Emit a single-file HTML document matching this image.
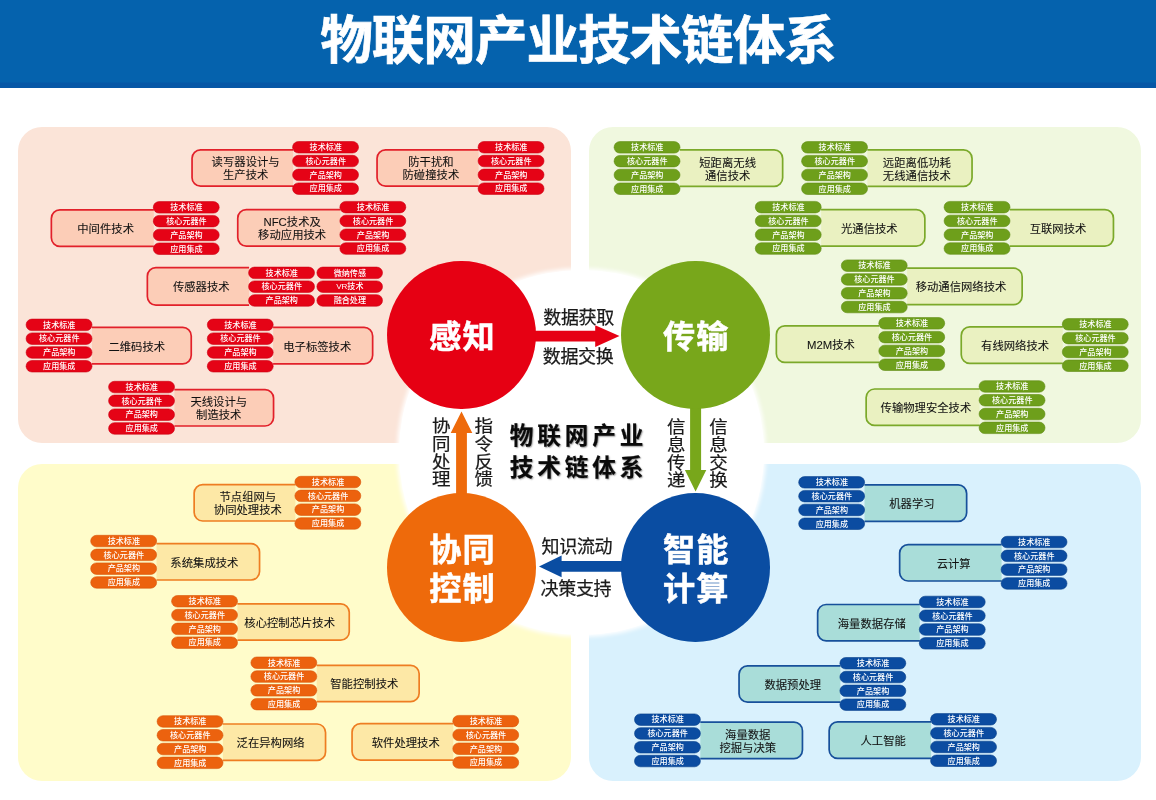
<!DOCTYPE html>
<html lang="zh-CN">
<head>
<meta charset="utf-8">
<title>物联网产业技术链体系</title>
<style>
html,body{margin:0;padding:0;background:#fff;}
body{width:1156px;height:800px;overflow:hidden;position:relative;font-family:"Liberation Sans","Noto Sans CJK SC",sans-serif;color:#111;}
#stage{-webkit-font-smoothing:antialiased;will-change:transform;position:absolute;left:0;top:0;width:1156px;height:800px;overflow:hidden;background:#fff;}
#hdr{position:absolute;left:0;top:0;width:1156px;height:87.5px;background:linear-gradient(#0562ad 0,#0562ad 81.5px,#0757a6 83.5px,#0757a6 100%);}
#hdr h1{position:absolute;left:0;top:0;width:1156px;margin:0;text-align:center;color:#fff;font-weight:700;font-size:52.6px;line-height:82px;height:87px;letter-spacing:-1.05px;white-space:nowrap;-webkit-text-stroke:.7px #fff;}
.pan{position:absolute;border-radius:24px;}
#pTL{left:18px;top:126.5px;width:553px;height:316.5px;background:#fbe4d8;}
#pTR{left:588.5px;top:126.5px;width:552.5px;height:316.5px;background:#f0f8df;}
#pBL{left:18px;top:464px;width:553px;height:316.5px;background:#fffcca;}
#pBR{left:588.5px;top:464px;width:552.5px;height:316.5px;background:#d9f1fd;}
#wc{position:absolute;left:398.5px;top:269.5px;width:365px;height:365px;border-radius:50%;background:#fff;box-shadow:0 0 4px 2px #fff;}
.cir{position:absolute;width:148.6px;height:148.6px;border-radius:50%;color:#fff;font-weight:700;font-size:32.2px;text-align:center;display:flex;align-items:center;justify-content:center;line-height:38.7px;letter-spacing:1.1px;padding:5px 0 0 1.6px;box-sizing:border-box;-webkit-text-stroke:.5px #fff;}
#c1{left:387.4px;top:260.5px;background:#e60013;}
#c2{left:621.2px;top:260.5px;background:#78a71b;}
#c3{left:387.4px;top:493.3px;background:#ee6a0b;}
#c4{left:621.2px;top:493.3px;background:#0a4da2;}
.al{position:absolute;-webkit-text-stroke:.25px #1a1a1a;font-size:18px;line-height:20px;height:20px;white-space:nowrap;color:#1a1a1a;letter-spacing:-.35px;}
.vl{position:absolute;-webkit-text-stroke:.25px #1a1a1a;font-size:18.5px;line-height:19.25px;width:20px;text-align:center;color:#1a1a1a;transform:scaleY(.9);transform-origin:50% 0;}
#ct{position:absolute;left:508.6px;top:419.6px;width:140px;text-align:center;font-weight:700;font-size:23.6px;line-height:32.7px;letter-spacing:3.9px;color:#0a0a0a;white-space:nowrap;text-shadow:1px 1px 1.5px rgba(0,0,0,.4);-webkit-text-stroke:.2px #0a0a0a;}
svg#arr{position:absolute;left:0;top:0;}
svg#itm{position:absolute;left:0;top:0;}
.bxs path{stroke-width:1.7;}
.xr{fill:#fccdb7;stroke:#e2202a;}
.xg{fill:#eaf1c1;stroke:#7ba92a;}
.xo{fill:#fde8a6;stroke:#ee7d22;}
.xb{fill:#a9ddd9;stroke:#17509b;}
.pr{fill:#e50316;stroke:#cb0012;stroke-width:.6;}
.pg{fill:#6e9f1b;stroke:#5f8c14;stroke-width:.6;}
.po{fill:#ec620e;stroke:#d6560a;stroke-width:.6;}
.pb{fill:#0b4ca1;stroke:#083f8a;stroke-width:.6;}
.btx text{font-family:"Liberation Sans","Noto Sans CJK SC",sans-serif;font-size:11.35px;fill:#111;stroke:#111;stroke-width:.08px;text-anchor:middle;dominant-baseline:central;}
.ptx text{font-family:"Liberation Sans","Noto Sans CJK SC",sans-serif;font-size:8.1px;font-weight:500;fill:#fff;text-anchor:middle;dominant-baseline:central;}
</style>
</head>
<body>
<div id="stage">
<div id="hdr"><h1>物联网产业技术链体系</h1></div>
<div class="pan" id="pTL"></div>
<div class="pan" id="pTR"></div>
<div class="pan" id="pBL"></div>
<div class="pan" id="pBR"></div>
<div id="wc"></div>
<svg id="arr" width="1156" height="800" viewBox="0 0 1156 800">
<polygon fill="#e60013" points="530,330.7 595.2,330.7 595.2,325.2 619.5,336.1 595.2,347 595.2,341.5 530,341.5"/>
<polygon fill="#78a71b" points="690.1,404 701.1,404 701.1,470.1 706.3,470.1 695.6,491.6 684.9,470.1 690.1,470.1"/>
<polygon fill="#0a4da2" points="628,561 561.6,561 561.6,555.5 539,566.4 561.6,577.3 561.6,571.8 628,571.8"/>
<polygon fill="#ee6a0b" points="456.1,500 456.1,433 450.7,433 461.5,411.4 472.3,433 466.9,433 466.9,500"/>
</svg>
<div class="cir" id="c1">感知</div>
<div class="cir" id="c2">传输</div>
<div class="cir" id="c3">协同<br>控制</div>
<div class="cir" id="c4">智能<br>计算</div>
<div class="al" style="left:543.3px;top:307.5px">数据获取</div>
<div class="al" style="left:542.8px;top:347.2px">数据交换</div>
<div class="al" style="left:541.6px;top:536.6px">知识流动</div>
<div class="al" style="left:540.6px;top:579.1px">决策支持</div>
<div class="vl" style="left:431.25px;top:418.4px">协<br>同<br>处<br>理</div>
<div class="vl" style="left:473.8px;top:418.4px">指<br>令<br>反<br>馈</div>
<div class="vl" style="left:666.3px;top:418.6px">信<br>息<br>传<br>递</div>
<div class="vl" style="left:708.4px;top:418.6px">信<br>息<br>交<br>换</div>
<div id="ct">物联网产业<br>技术链体系</div>
<svg id="itm" width="1156" height="800" viewBox="0 0 1156 800">
<g class="bxs"><path class="xr" d="M293.1,149.8 L200.55,149.8 A8.5,8.5 0 0 0 192.05,158.3 L192.05,177.7 A8.5,8.5 0 0 0 200.55,186.2 L293.1,186.2"/>
<path class="xr" d="M478.6,149.8 L385.55,149.8 A8.5,8.5 0 0 0 377.05,158.3 L377.05,177.7 A8.5,8.5 0 0 0 385.55,186.2 L478.6,186.2"/>
<path class="xr" d="M153.8,209.9 L59.85,209.9 A8.5,8.5 0 0 0 51.35,218.4 L51.35,237.8 A8.5,8.5 0 0 0 59.85,246.3 L153.8,246.3"/>
<path class="xr" d="M340.4,209.7 L246.25,209.7 A8.5,8.5 0 0 0 237.75,218.2 L237.75,237.6 A8.5,8.5 0 0 0 246.25,246.1 L340.4,246.1"/>
<path class="xr" d="M91.9,327.4 L182.75,327.4 A8.5,8.5 0 0 1 191.25,335.9 L191.25,355.3 A8.5,8.5 0 0 1 182.75,363.8 L91.9,363.8"/>
<path class="xr" d="M273.1,327.4 L364.15,327.4 A8.5,8.5 0 0 1 372.65,335.9 L372.65,355.3 A8.5,8.5 0 0 1 364.15,363.8 L273.1,363.8"/>
<path class="xr" d="M174.4,389.6 L265.05,389.6 A8.5,8.5 0 0 1 273.55,398.1 L273.55,417.5 A8.5,8.5 0 0 1 265.05,426 L174.4,426"/>
<path class="xg" d="M679.9,149.9 L774.15,149.9 A8.5,8.5 0 0 1 782.65,158.4 L782.65,177.8 A8.5,8.5 0 0 1 774.15,186.3 L679.9,186.3"/>
<path class="xg" d="M867.4,149.9 L963.55,149.9 A8.5,8.5 0 0 1 972.05,158.4 L972.05,177.8 A8.5,8.5 0 0 1 963.55,186.3 L867.4,186.3"/>
<path class="xg" d="M821.1,209.7 L916.35,209.7 A8.5,8.5 0 0 1 924.85,218.2 L924.85,237.6 A8.5,8.5 0 0 1 916.35,246.1 L821.1,246.1"/>
<path class="xg" d="M1009.9,209.7 L1104.95,209.7 A8.5,8.5 0 0 1 1113.45,218.2 L1113.45,237.6 A8.5,8.5 0 0 1 1104.95,246.1 L1009.9,246.1"/>
<path class="xg" d="M907.1,268.2 L1013.65,268.2 A8.5,8.5 0 0 1 1022.15,276.7 L1022.15,296.1 A8.5,8.5 0 0 1 1013.65,304.6 L907.1,304.6"/>
<path class="xg" d="M879.3,325.9 L784.85,325.9 A8.5,8.5 0 0 0 776.35,334.4 L776.35,353.8 A8.5,8.5 0 0 0 784.85,362.3 L879.3,362.3"/>
<path class="xg" d="M1062.8,326.9 L969.75,326.9 A8.5,8.5 0 0 0 961.25,335.4 L961.25,354.8 A8.5,8.5 0 0 0 969.75,363.3 L1062.8,363.3"/>
<path class="xg" d="M979.6,389 L874.65,389 A8.5,8.5 0 0 0 866.15,397.5 L866.15,416.9 A8.5,8.5 0 0 0 874.65,425.4 L979.6,425.4"/>
<path class="xb" d="M864.5,484.9 L958.15,484.9 A8.5,8.5 0 0 1 966.65,493.4 L966.65,512.8 A8.5,8.5 0 0 1 958.15,521.3 L864.5,521.3"/>
<path class="xb" d="M1001.6,544.6 L908.15,544.6 A8.5,8.5 0 0 0 899.65,553.1 L899.65,572.5 A8.5,8.5 0 0 0 908.15,581 L1001.6,581"/>
<path class="xb" d="M919.8,604.5 L826.15,604.5 A8.5,8.5 0 0 0 817.65,613 L817.65,632.4 A8.5,8.5 0 0 0 826.15,640.9 L919.8,640.9"/>
<path class="xb" d="M840.4,665.8 L747.55,665.8 A8.5,8.5 0 0 0 739.05,674.3 L739.05,693.7 A8.5,8.5 0 0 0 747.55,702.2 L840.4,702.2"/>
<path class="xb" d="M700.3,722.2 L793.95,722.2 A8.5,8.5 0 0 1 802.45,730.7 L802.45,750.1 A8.5,8.5 0 0 1 793.95,758.6 L700.3,758.6"/>
<path class="xb" d="M931.1,721.9 L837.65,721.9 A8.5,8.5 0 0 0 829.15,730.4 L829.15,749.8 A8.5,8.5 0 0 0 837.65,758.3 L931.1,758.3"/>
<path class="xo" d="M295.4,484.6 L202.65,484.6 A8.5,8.5 0 0 0 194.15,493.1 L194.15,512.5 A8.5,8.5 0 0 0 202.65,521 L295.4,521"/>
<path class="xo" d="M156.5,543.6 L251.05,543.6 A8.5,8.5 0 0 1 259.55,552.1 L259.55,571.5 A8.5,8.5 0 0 1 251.05,580 L156.5,580"/>
<path class="xo" d="M237.4,603.8 L340.75,603.8 A8.5,8.5 0 0 1 349.25,612.3 L349.25,631.7 A8.5,8.5 0 0 1 340.75,640.2 L237.4,640.2"/>
<path class="xo" d="M316.7,665.3 L410.65,665.3 A8.5,8.5 0 0 1 419.15,673.8 L419.15,693.2 A8.5,8.5 0 0 1 410.65,701.7 L316.7,701.7"/>
<path class="xo" d="M222.9,724 L317.05,724 A8.5,8.5 0 0 1 325.55,732.5 L325.55,751.9 A8.5,8.5 0 0 1 317.05,760.4 L222.9,760.4"/>
<path class="xo" d="M453.3,723.7 L360.55,723.7 A8.5,8.5 0 0 0 352.05,732.2 L352.05,751.6 A8.5,8.5 0 0 0 360.55,760.1 L453.3,760.1"/>
<path class="xr" d="M249.1,267.7 L155.85,267.7 A8.5,8.5 0 0 0 147.35,276.2 L147.35,296.6 A8.5,8.5 0 0 0 155.85,305.1 L249.1,305.1"/></g>
<g class="pls"><rect class="pr" x="292.6" y="141.5" width="65.9" height="11.5" rx="5.8" ry="5.8"/>
<rect class="pr" x="292.6" y="155.3" width="65.9" height="11.5" rx="5.8" ry="5.8"/>
<rect class="pr" x="292.6" y="169.1" width="65.9" height="11.5" rx="5.8" ry="5.8"/>
<rect class="pr" x="292.6" y="182.9" width="65.9" height="11.5" rx="5.8" ry="5.8"/>
<rect class="pr" x="478.1" y="141.5" width="65.9" height="11.5" rx="5.8" ry="5.8"/>
<rect class="pr" x="478.1" y="155.3" width="65.9" height="11.5" rx="5.8" ry="5.8"/>
<rect class="pr" x="478.1" y="169.1" width="65.9" height="11.5" rx="5.8" ry="5.8"/>
<rect class="pr" x="478.1" y="182.9" width="65.9" height="11.5" rx="5.8" ry="5.8"/>
<rect class="pr" x="153.3" y="201.6" width="65.9" height="11.5" rx="5.8" ry="5.8"/>
<rect class="pr" x="153.3" y="215.4" width="65.9" height="11.5" rx="5.8" ry="5.8"/>
<rect class="pr" x="153.3" y="229.2" width="65.9" height="11.5" rx="5.8" ry="5.8"/>
<rect class="pr" x="153.3" y="243" width="65.9" height="11.5" rx="5.8" ry="5.8"/>
<rect class="pr" x="339.9" y="201.4" width="65.9" height="11.5" rx="5.8" ry="5.8"/>
<rect class="pr" x="339.9" y="215.2" width="65.9" height="11.5" rx="5.8" ry="5.8"/>
<rect class="pr" x="339.9" y="229" width="65.9" height="11.5" rx="5.8" ry="5.8"/>
<rect class="pr" x="339.9" y="242.8" width="65.9" height="11.5" rx="5.8" ry="5.8"/>
<rect class="pr" x="26.1" y="319.1" width="65.9" height="11.5" rx="5.8" ry="5.8"/>
<rect class="pr" x="26.1" y="332.9" width="65.9" height="11.5" rx="5.8" ry="5.8"/>
<rect class="pr" x="26.1" y="346.7" width="65.9" height="11.5" rx="5.8" ry="5.8"/>
<rect class="pr" x="26.1" y="360.5" width="65.9" height="11.5" rx="5.8" ry="5.8"/>
<rect class="pr" x="207.3" y="319.1" width="65.9" height="11.5" rx="5.8" ry="5.8"/>
<rect class="pr" x="207.3" y="332.9" width="65.9" height="11.5" rx="5.8" ry="5.8"/>
<rect class="pr" x="207.3" y="346.7" width="65.9" height="11.5" rx="5.8" ry="5.8"/>
<rect class="pr" x="207.3" y="360.5" width="65.9" height="11.5" rx="5.8" ry="5.8"/>
<rect class="pr" x="108.6" y="381.3" width="65.9" height="11.5" rx="5.8" ry="5.8"/>
<rect class="pr" x="108.6" y="395.1" width="65.9" height="11.5" rx="5.8" ry="5.8"/>
<rect class="pr" x="108.6" y="408.9" width="65.9" height="11.5" rx="5.8" ry="5.8"/>
<rect class="pr" x="108.6" y="422.7" width="65.9" height="11.5" rx="5.8" ry="5.8"/>
<rect class="pg" x="614.1" y="141.6" width="65.9" height="11.5" rx="5.8" ry="5.8"/>
<rect class="pg" x="614.1" y="155.4" width="65.9" height="11.5" rx="5.8" ry="5.8"/>
<rect class="pg" x="614.1" y="169.2" width="65.9" height="11.5" rx="5.8" ry="5.8"/>
<rect class="pg" x="614.1" y="183" width="65.9" height="11.5" rx="5.8" ry="5.8"/>
<rect class="pg" x="801.6" y="141.6" width="65.9" height="11.5" rx="5.8" ry="5.8"/>
<rect class="pg" x="801.6" y="155.4" width="65.9" height="11.5" rx="5.8" ry="5.8"/>
<rect class="pg" x="801.6" y="169.2" width="65.9" height="11.5" rx="5.8" ry="5.8"/>
<rect class="pg" x="801.6" y="183" width="65.9" height="11.5" rx="5.8" ry="5.8"/>
<rect class="pg" x="755.3" y="201.4" width="65.9" height="11.5" rx="5.8" ry="5.8"/>
<rect class="pg" x="755.3" y="215.2" width="65.9" height="11.5" rx="5.8" ry="5.8"/>
<rect class="pg" x="755.3" y="229" width="65.9" height="11.5" rx="5.8" ry="5.8"/>
<rect class="pg" x="755.3" y="242.8" width="65.9" height="11.5" rx="5.8" ry="5.8"/>
<rect class="pg" x="944.1" y="201.4" width="65.9" height="11.5" rx="5.8" ry="5.8"/>
<rect class="pg" x="944.1" y="215.2" width="65.9" height="11.5" rx="5.8" ry="5.8"/>
<rect class="pg" x="944.1" y="229" width="65.9" height="11.5" rx="5.8" ry="5.8"/>
<rect class="pg" x="944.1" y="242.8" width="65.9" height="11.5" rx="5.8" ry="5.8"/>
<rect class="pg" x="841.3" y="259.9" width="65.9" height="11.5" rx="5.8" ry="5.8"/>
<rect class="pg" x="841.3" y="273.7" width="65.9" height="11.5" rx="5.8" ry="5.8"/>
<rect class="pg" x="841.3" y="287.5" width="65.9" height="11.5" rx="5.8" ry="5.8"/>
<rect class="pg" x="841.3" y="301.3" width="65.9" height="11.5" rx="5.8" ry="5.8"/>
<rect class="pg" x="878.8" y="317.6" width="65.9" height="11.5" rx="5.8" ry="5.8"/>
<rect class="pg" x="878.8" y="331.4" width="65.9" height="11.5" rx="5.8" ry="5.8"/>
<rect class="pg" x="878.8" y="345.2" width="65.9" height="11.5" rx="5.8" ry="5.8"/>
<rect class="pg" x="878.8" y="359" width="65.9" height="11.5" rx="5.8" ry="5.8"/>
<rect class="pg" x="1062.3" y="318.6" width="65.9" height="11.5" rx="5.8" ry="5.8"/>
<rect class="pg" x="1062.3" y="332.4" width="65.9" height="11.5" rx="5.8" ry="5.8"/>
<rect class="pg" x="1062.3" y="346.2" width="65.9" height="11.5" rx="5.8" ry="5.8"/>
<rect class="pg" x="1062.3" y="360" width="65.9" height="11.5" rx="5.8" ry="5.8"/>
<rect class="pg" x="979.1" y="380.7" width="65.9" height="11.5" rx="5.8" ry="5.8"/>
<rect class="pg" x="979.1" y="394.5" width="65.9" height="11.5" rx="5.8" ry="5.8"/>
<rect class="pg" x="979.1" y="408.3" width="65.9" height="11.5" rx="5.8" ry="5.8"/>
<rect class="pg" x="979.1" y="422.1" width="65.9" height="11.5" rx="5.8" ry="5.8"/>
<rect class="pb" x="798.7" y="476.6" width="65.9" height="11.5" rx="5.8" ry="5.8"/>
<rect class="pb" x="798.7" y="490.4" width="65.9" height="11.5" rx="5.8" ry="5.8"/>
<rect class="pb" x="798.7" y="504.2" width="65.9" height="11.5" rx="5.8" ry="5.8"/>
<rect class="pb" x="798.7" y="518" width="65.9" height="11.5" rx="5.8" ry="5.8"/>
<rect class="pb" x="1001.1" y="536.3" width="65.9" height="11.5" rx="5.8" ry="5.8"/>
<rect class="pb" x="1001.1" y="550.1" width="65.9" height="11.5" rx="5.8" ry="5.8"/>
<rect class="pb" x="1001.1" y="563.9" width="65.9" height="11.5" rx="5.8" ry="5.8"/>
<rect class="pb" x="1001.1" y="577.7" width="65.9" height="11.5" rx="5.8" ry="5.8"/>
<rect class="pb" x="919.3" y="596.2" width="65.9" height="11.5" rx="5.8" ry="5.8"/>
<rect class="pb" x="919.3" y="610" width="65.9" height="11.5" rx="5.8" ry="5.8"/>
<rect class="pb" x="919.3" y="623.8" width="65.9" height="11.5" rx="5.8" ry="5.8"/>
<rect class="pb" x="919.3" y="637.6" width="65.9" height="11.5" rx="5.8" ry="5.8"/>
<rect class="pb" x="839.9" y="657.5" width="65.9" height="11.5" rx="5.8" ry="5.8"/>
<rect class="pb" x="839.9" y="671.3" width="65.9" height="11.5" rx="5.8" ry="5.8"/>
<rect class="pb" x="839.9" y="685.1" width="65.9" height="11.5" rx="5.8" ry="5.8"/>
<rect class="pb" x="839.9" y="698.9" width="65.9" height="11.5" rx="5.8" ry="5.8"/>
<rect class="pb" x="634.5" y="713.9" width="65.9" height="11.5" rx="5.8" ry="5.8"/>
<rect class="pb" x="634.5" y="727.7" width="65.9" height="11.5" rx="5.8" ry="5.8"/>
<rect class="pb" x="634.5" y="741.5" width="65.9" height="11.5" rx="5.8" ry="5.8"/>
<rect class="pb" x="634.5" y="755.3" width="65.9" height="11.5" rx="5.8" ry="5.8"/>
<rect class="pb" x="930.6" y="713.6" width="65.9" height="11.5" rx="5.8" ry="5.8"/>
<rect class="pb" x="930.6" y="727.4" width="65.9" height="11.5" rx="5.8" ry="5.8"/>
<rect class="pb" x="930.6" y="741.2" width="65.9" height="11.5" rx="5.8" ry="5.8"/>
<rect class="pb" x="930.6" y="755" width="65.9" height="11.5" rx="5.8" ry="5.8"/>
<rect class="po" x="294.9" y="476.3" width="65.9" height="11.5" rx="5.8" ry="5.8"/>
<rect class="po" x="294.9" y="490.1" width="65.9" height="11.5" rx="5.8" ry="5.8"/>
<rect class="po" x="294.9" y="503.9" width="65.9" height="11.5" rx="5.8" ry="5.8"/>
<rect class="po" x="294.9" y="517.7" width="65.9" height="11.5" rx="5.8" ry="5.8"/>
<rect class="po" x="90.7" y="535.3" width="65.9" height="11.5" rx="5.8" ry="5.8"/>
<rect class="po" x="90.7" y="549.1" width="65.9" height="11.5" rx="5.8" ry="5.8"/>
<rect class="po" x="90.7" y="562.9" width="65.9" height="11.5" rx="5.8" ry="5.8"/>
<rect class="po" x="90.7" y="576.7" width="65.9" height="11.5" rx="5.8" ry="5.8"/>
<rect class="po" x="171.6" y="595.5" width="65.9" height="11.5" rx="5.8" ry="5.8"/>
<rect class="po" x="171.6" y="609.3" width="65.9" height="11.5" rx="5.8" ry="5.8"/>
<rect class="po" x="171.6" y="623.1" width="65.9" height="11.5" rx="5.8" ry="5.8"/>
<rect class="po" x="171.6" y="636.9" width="65.9" height="11.5" rx="5.8" ry="5.8"/>
<rect class="po" x="250.9" y="657" width="65.9" height="11.5" rx="5.8" ry="5.8"/>
<rect class="po" x="250.9" y="670.8" width="65.9" height="11.5" rx="5.8" ry="5.8"/>
<rect class="po" x="250.9" y="684.6" width="65.9" height="11.5" rx="5.8" ry="5.8"/>
<rect class="po" x="250.9" y="698.4" width="65.9" height="11.5" rx="5.8" ry="5.8"/>
<rect class="po" x="157.1" y="715.7" width="65.9" height="11.5" rx="5.8" ry="5.8"/>
<rect class="po" x="157.1" y="729.5" width="65.9" height="11.5" rx="5.8" ry="5.8"/>
<rect class="po" x="157.1" y="743.3" width="65.9" height="11.5" rx="5.8" ry="5.8"/>
<rect class="po" x="157.1" y="757.1" width="65.9" height="11.5" rx="5.8" ry="5.8"/>
<rect class="po" x="452.8" y="715.4" width="65.9" height="11.5" rx="5.8" ry="5.8"/>
<rect class="po" x="452.8" y="729.2" width="65.9" height="11.5" rx="5.8" ry="5.8"/>
<rect class="po" x="452.8" y="743" width="65.9" height="11.5" rx="5.8" ry="5.8"/>
<rect class="po" x="452.8" y="756.8" width="65.9" height="11.5" rx="5.8" ry="5.8"/>
<rect class="pr" x="248.6" y="267.1" width="65.9" height="11.5" rx="5.8" ry="5.8"/>
<rect class="pr" x="248.6" y="280.9" width="65.9" height="11.5" rx="5.8" ry="5.8"/>
<rect class="pr" x="248.6" y="294.7" width="65.9" height="11.5" rx="5.8" ry="5.8"/>
<rect class="pr" x="316.9" y="267.1" width="65.6" height="11.5" rx="5.8" ry="5.8"/>
<rect class="pr" x="316.9" y="280.9" width="65.6" height="11.5" rx="5.8" ry="5.8"/>
<rect class="pr" x="316.9" y="294.7" width="65.6" height="11.5" rx="5.8" ry="5.8"/></g>
<g class="btx"><text x="245.65" y="162.4">读写器设计与</text>
<text x="245.65" y="175.4">生产技术</text>
<text x="430.9" y="162.4">防干扰和</text>
<text x="430.9" y="175.4">防碰撞技术</text>
<text x="105.65" y="229">中间件技术</text>
<text x="292.15" y="222.3">NFC技术及</text>
<text x="292.15" y="235.3">移动应用技术</text>
<text x="136.75" y="346.5">二维码技术</text>
<text x="317.25" y="346.5">电子标签技术</text>
<text x="218.75" y="402.2">天线设计与</text>
<text x="218.75" y="415.2">制造技术</text>
<text x="727.65" y="162.5">短距离无线</text>
<text x="727.65" y="175.5">通信技术</text>
<text x="916.9" y="162.5">远距离低功耗</text>
<text x="916.9" y="175.5">无线通信技术</text>
<text x="869.35" y="228.8">光通信技术</text>
<text x="1058.05" y="228.8">互联网技术</text>
<text x="961" y="287.3">移动通信网络技术</text>
<text x="830.9" y="345">M2M技术</text>
<text x="1015.1" y="346">有线网络技术</text>
<text x="925.95" y="408.1">传输物理安全技术</text>
<text x="911.95" y="504">机器学习</text>
<text x="953.7" y="563.7">云计算</text>
<text x="871.8" y="623.6">海量数据存储</text>
<text x="792.8" y="684.9">数据预处理</text>
<text x="747.75" y="734.8">海量数据</text>
<text x="747.75" y="747.8">挖掘与决策</text>
<text x="883.2" y="741">人工智能</text>
<text x="247.85" y="497.2">节点组网与</text>
<text x="247.85" y="510.2">协同处理技术</text>
<text x="204.4" y="562.7">系统集成技术</text>
<text x="289.7" y="622.9">核心控制芯片技术</text>
<text x="364.3" y="684.4">智能控制技术</text>
<text x="270.6" y="743.1">泛在异构网络</text>
<text x="405.75" y="742.8">软件处理技术</text>
<text x="201.3" y="287.3">传感器技术</text></g>
<g class="ptx"><text x="325.75" y="147.55">技术标准</text>
<text x="325.75" y="161.35">核心元器件</text>
<text x="325.75" y="175.15">产品架构</text>
<text x="325.75" y="188.95">应用集成</text>
<text x="511.25" y="147.55">技术标准</text>
<text x="511.25" y="161.35">核心元器件</text>
<text x="511.25" y="175.15">产品架构</text>
<text x="511.25" y="188.95">应用集成</text>
<text x="186.45" y="207.65">技术标准</text>
<text x="186.45" y="221.45">核心元器件</text>
<text x="186.45" y="235.25">产品架构</text>
<text x="186.45" y="249.05">应用集成</text>
<text x="373.05" y="207.45">技术标准</text>
<text x="373.05" y="221.25">核心元器件</text>
<text x="373.05" y="235.05">产品架构</text>
<text x="373.05" y="248.85">应用集成</text>
<text x="59.25" y="325.15">技术标准</text>
<text x="59.25" y="338.95">核心元器件</text>
<text x="59.25" y="352.75">产品架构</text>
<text x="59.25" y="366.55">应用集成</text>
<text x="240.45" y="325.15">技术标准</text>
<text x="240.45" y="338.95">核心元器件</text>
<text x="240.45" y="352.75">产品架构</text>
<text x="240.45" y="366.55">应用集成</text>
<text x="141.75" y="387.35">技术标准</text>
<text x="141.75" y="401.15">核心元器件</text>
<text x="141.75" y="414.95">产品架构</text>
<text x="141.75" y="428.75">应用集成</text>
<text x="647.25" y="147.65">技术标准</text>
<text x="647.25" y="161.45">核心元器件</text>
<text x="647.25" y="175.25">产品架构</text>
<text x="647.25" y="189.05">应用集成</text>
<text x="834.75" y="147.65">技术标准</text>
<text x="834.75" y="161.45">核心元器件</text>
<text x="834.75" y="175.25">产品架构</text>
<text x="834.75" y="189.05">应用集成</text>
<text x="788.45" y="207.45">技术标准</text>
<text x="788.45" y="221.25">核心元器件</text>
<text x="788.45" y="235.05">产品架构</text>
<text x="788.45" y="248.85">应用集成</text>
<text x="977.25" y="207.45">技术标准</text>
<text x="977.25" y="221.25">核心元器件</text>
<text x="977.25" y="235.05">产品架构</text>
<text x="977.25" y="248.85">应用集成</text>
<text x="874.45" y="265.95">技术标准</text>
<text x="874.45" y="279.75">核心元器件</text>
<text x="874.45" y="293.55">产品架构</text>
<text x="874.45" y="307.35">应用集成</text>
<text x="911.95" y="323.65">技术标准</text>
<text x="911.95" y="337.45">核心元器件</text>
<text x="911.95" y="351.25">产品架构</text>
<text x="911.95" y="365.05">应用集成</text>
<text x="1095.45" y="324.65">技术标准</text>
<text x="1095.45" y="338.45">核心元器件</text>
<text x="1095.45" y="352.25">产品架构</text>
<text x="1095.45" y="366.05">应用集成</text>
<text x="1012.25" y="386.75">技术标准</text>
<text x="1012.25" y="400.55">核心元器件</text>
<text x="1012.25" y="414.35">产品架构</text>
<text x="1012.25" y="428.15">应用集成</text>
<text x="831.85" y="482.65">技术标准</text>
<text x="831.85" y="496.45">核心元器件</text>
<text x="831.85" y="510.25">产品架构</text>
<text x="831.85" y="524.05">应用集成</text>
<text x="1034.25" y="542.35">技术标准</text>
<text x="1034.25" y="556.15">核心元器件</text>
<text x="1034.25" y="569.95">产品架构</text>
<text x="1034.25" y="583.75">应用集成</text>
<text x="952.45" y="602.25">技术标准</text>
<text x="952.45" y="616.05">核心元器件</text>
<text x="952.45" y="629.85">产品架构</text>
<text x="952.45" y="643.65">应用集成</text>
<text x="873.05" y="663.55">技术标准</text>
<text x="873.05" y="677.35">核心元器件</text>
<text x="873.05" y="691.15">产品架构</text>
<text x="873.05" y="704.95">应用集成</text>
<text x="667.65" y="719.95">技术标准</text>
<text x="667.65" y="733.75">核心元器件</text>
<text x="667.65" y="747.55">产品架构</text>
<text x="667.65" y="761.35">应用集成</text>
<text x="963.75" y="719.65">技术标准</text>
<text x="963.75" y="733.45">核心元器件</text>
<text x="963.75" y="747.25">产品架构</text>
<text x="963.75" y="761.05">应用集成</text>
<text x="328.05" y="482.35">技术标准</text>
<text x="328.05" y="496.15">核心元器件</text>
<text x="328.05" y="509.95">产品架构</text>
<text x="328.05" y="523.75">应用集成</text>
<text x="123.85" y="541.35">技术标准</text>
<text x="123.85" y="555.15">核心元器件</text>
<text x="123.85" y="568.95">产品架构</text>
<text x="123.85" y="582.75">应用集成</text>
<text x="204.75" y="601.55">技术标准</text>
<text x="204.75" y="615.35">核心元器件</text>
<text x="204.75" y="629.15">产品架构</text>
<text x="204.75" y="642.95">应用集成</text>
<text x="284.05" y="663.05">技术标准</text>
<text x="284.05" y="676.85">核心元器件</text>
<text x="284.05" y="690.65">产品架构</text>
<text x="284.05" y="704.45">应用集成</text>
<text x="190.25" y="721.75">技术标准</text>
<text x="190.25" y="735.55">核心元器件</text>
<text x="190.25" y="749.35">产品架构</text>
<text x="190.25" y="763.15">应用集成</text>
<text x="485.95" y="721.45">技术标准</text>
<text x="485.95" y="735.25">核心元器件</text>
<text x="485.95" y="749.05">产品架构</text>
<text x="485.95" y="762.85">应用集成</text>
<text x="281.75" y="273.15">技术标准</text>
<text x="281.75" y="286.95">核心元器件</text>
<text x="281.75" y="300.75">产品架构</text>
<text x="349.85" y="273.15">微纳传感</text>
<text x="349.85" y="286.95">VR技术</text>
<text x="349.85" y="300.75">融合处理</text></g>
</svg></div>
</body>
</html>
